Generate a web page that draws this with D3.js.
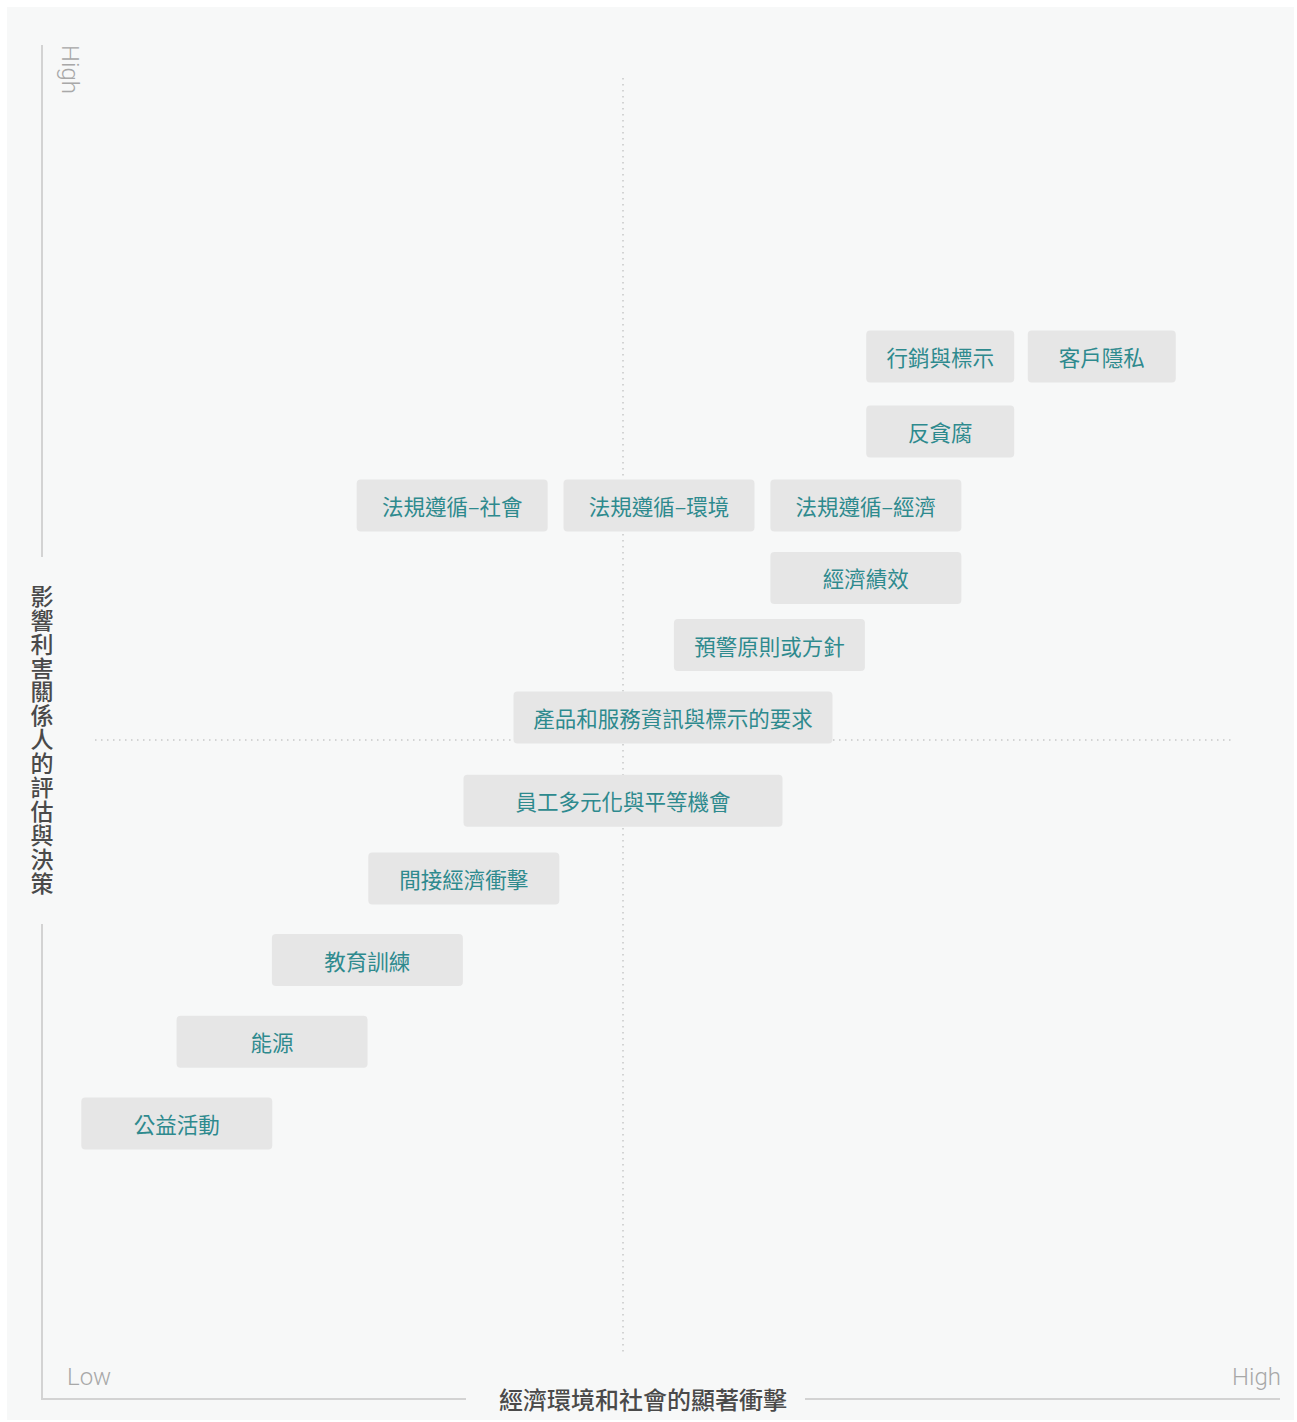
<!DOCTYPE html>
<html>
<head>
<meta charset="utf-8">
<script src="https://cdn.jsdelivr.net/npm/d3@7"></script>
<style>
    body { margin: 0; background: #ffffff; }
    #chart { width: 1297px; height: 1422px; }
</style>
</head>
<body>
<div id="chart"></div>
<script>
// Material topics
const topics = [
    '行銷與標示', '客戶隱私', '反貪腐',
    '法規遵循–社會', '法規遵循–環境', '法規遵循–經濟',
    '經濟績效', '預警原則或方針', '產品和服務資訊與標示的要求',
    '員工多元化與平等機會', '間接經濟衝擊', '教育訓練', '能源', '公益活動'
];
// Significance of economic, environmental and social impacts (0-10)
const impactValues = [7.73, 9.12, 7.73, 3.53, 5.31, 7.09, 7.09, 6.26, 5.43, 5.00, 3.63, 2.80, 1.98, 1.16];
// Influence on stakeholder assessments and decisions (0-10)
const stakeholderValues = [7.91, 7.91, 7.34, 6.78, 6.78, 6.78, 6.23, 5.72, 5.17, 4.54, 3.95, 3.33, 2.71, 2.09];

const xTitle = '經濟環境和社會的顯著衝擊';
const yTitle = '影響利害關係人的評估與決策';
const lowLabel = 'Low';
const highLabel = 'High';

// box widths per topic (layout only)
const boxSize = [148, 148, 148, 191, 191, 191, 191, 191, 319, 319, 191, 191, 191, 191];
const boxHeight = 52;

const width = 1297, height = 1422;

const svg = d3.select('#chart')
    .append('svg')
    .attr('width', width)
    .attr('height', height);

// panel background
svg.append('rect')
    .attr('x', 7).attr('y', 7)
    .attr('width', 1287).attr('height', 1413)
    .attr('fill', '#f7f8f8');

const x = d3.scaleLinear().domain([0, 10]).range([42, 1204]);
const y = d3.scaleLinear().domain([0, 10]).range([1399, 81]);

// quadrant dividers
svg.append('line')
    .attr('x1', x(5)).attr('x2', x(5))
    .attr('y1', 78).attr('y2', 1352)
    .attr('stroke', '#c8c8c8')
    .attr('stroke-width', 1.5)
    .attr('stroke-dasharray', '1.5 4.5');

svg.append('line')
    .attr('x1', 95).attr('x2', 1233)
    .attr('y1', y(5)).attr('y2', y(5))
    .attr('stroke', '#c8c8c8')
    .attr('stroke-width', 1.5)
    .attr('stroke-dasharray', '1.5 4.5');

// axis lines with gaps for titles
const axisColor = '#d3d3d3';
[[42, 45, 42, 557], [42, 924, 42, 1400], [41, 1399, 466, 1399], [805, 1399, 1280, 1399]]
    .forEach(s => {
        svg.append('line')
            .attr('x1', s[0]).attr('y1', s[1])
            .attr('x2', s[2]).attr('y2', s[3])
            .attr('stroke', axisColor)
            .attr('stroke-width', 2);
    });

// Low / High labels
const lightFont = 'Roboto, "Noto Sans", sans-serif';
svg.append('text')
    .attr('transform', 'translate(62, 45) rotate(90)')
    .attr('font-family', lightFont)
    .attr('font-weight', 300)
    .attr('font-size', 24)
    .attr('fill', '#a8a8a8')
    .text(highLabel);

svg.append('text')
    .attr('x', 67).attr('y', 1385)
    .attr('font-family', lightFont)
    .attr('font-weight', 300)
    .attr('font-size', 24)
    .attr('fill', '#a8a8a8')
    .text(lowLabel);

svg.append('text')
    .attr('x', 1281).attr('y', 1385)
    .attr('text-anchor', 'end')
    .attr('font-family', lightFont)
    .attr('font-weight', 300)
    .attr('font-size', 24)
    .attr('fill', '#a8a8a8')
    .text(highLabel);

// axis titles
const cjkFont = '"Noto Sans CJK TC", "Noto Sans CJK SC", sans-serif';
svg.append('text')
    .attr('x', 643).attr('y', 1398)
    .attr('text-anchor', 'middle')
    .attr('dominant-baseline', 'central')
    .attr('font-family', cjkFont)
    .attr('font-weight', 500)
    .attr('font-size', 24)
    .attr('fill', '#4a4a4a')
    .text(xTitle);

svg.append('text')
    .attr('x', 42).attr('y', 740)
    .attr('text-anchor', 'middle')
    .style('writing-mode', 'vertical-rl')
    .style('text-orientation', 'upright')
    .attr('letter-spacing', 0.9)
    .attr('font-family', cjkFont)
    .attr('font-weight', 500)
    .attr('font-size', 23)
    .attr('fill', '#4a4a4a')
    .text(yTitle);

// topic boxes
const data = topics.map((t, i) => ({
    name: t,
    impact: impactValues[i],
    stake: stakeholderValues[i],
    w: boxSize[i]
}));

const boxes = svg.append('g')
    .selectAll('g')
    .data(data)
    .enter()
    .append('g')
    .attr('transform', d => `translate(${x(d.impact)}, ${y(d.stake)})`);

boxes.append('rect')
    .attr('x', d => -d.w / 2)
    .attr('y', -boxHeight / 2)
    .attr('width', d => d.w)
    .attr('height', boxHeight)
    .attr('rx', 4)
    .attr('fill', '#e6e6e6');

boxes.append('text')
    .attr('text-anchor', 'middle')
    .attr('dominant-baseline', 'central')
    .attr('font-family', cjkFont)
    .attr('font-size', 21.5)
    .attr('fill', '#2e8a8e')
    .text(d => d.name);
</script>
</body>
</html>
